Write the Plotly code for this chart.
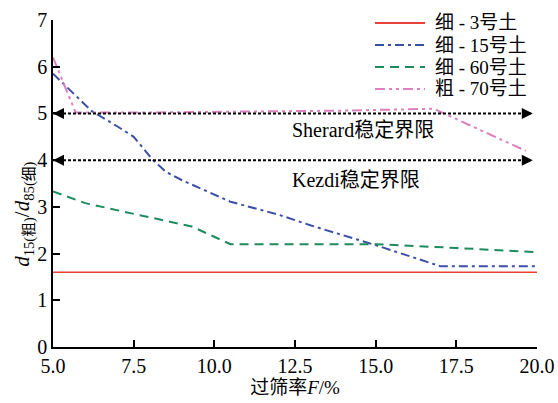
import plotly.graph_objects as go

# Filter pass rate F (%) and d15(coarse)/d85(fine) ratio for each soil pair
fine3_x = [5.0, 20.0]
fine3_y = [1.6, 1.6]

fine15_x = [5.0, 5.5, 6.2, 7.0, 7.5, 8.1, 8.5, 9.0, 10.5, 12.0, 13.0, 15.0, 17.0, 20.0]
fine15_y = [5.85, 5.52, 5.05, 4.72, 4.5, 4.0, 3.75, 3.57, 3.11, 2.83, 2.6, 2.18, 1.73, 1.73]

fine60_x = [5.0, 6.0, 7.5, 9.3, 10.5, 15.0, 17.5, 20.0]
fine60_y = [3.33, 3.08, 2.85, 2.58, 2.2, 2.2, 2.12, 2.03]

coarse70_x = [5.0, 5.7, 8.0, 10.0, 12.0, 14.0, 16.8, 19.65]
coarse70_y = [6.2, 5.02, 5.02, 5.03, 5.05, 5.06, 5.1, 4.2]

# Stability limits (Sherard and Kezdi) and the span of their arrows
sherard_limit = 5.0
kezdi_limit = 4.0
limit_x = [5.0, 19.87]

series_names = ["细 - 3号土", "细 - 15号土", "细 - 60号土", "粗 - 70号土"]

FONT = "Liberation Serif, Noto Sans CJK SC, serif"

styles = [
    dict(color="#e8413a", width=1.6, dash="solid"),
    dict(color="#3b4fa6", width=2, dash="9px,4px,3px,4px"),
    dict(color="#1e8b5f", width=2, dash="9px,6px"),
    dict(color="#dc80bf", width=2, dash="10px,4px,3px,4px,3px,4px"),
]
series = [(fine3_x, fine3_y), (fine15_x, fine15_y), (fine60_x, fine60_y), (coarse70_x, coarse70_y)]

fig = go.Figure()

for (xs, ys), name, st in zip(series, series_names, styles):
    fig.add_trace(go.Scatter(x=xs, y=ys, mode="lines", name=name, showlegend=False,
                             line=st))

# Dotted limit lines with arrowheads at both ends
for lim in (sherard_limit, kezdi_limit):
    fig.add_trace(go.Scatter(x=limit_x, y=[lim, lim], mode="lines", showlegend=False,
                             hoverinfo="skip",
                             line=dict(color="black", width=2, dash="3px,2px")))
    fig.add_trace(go.Scatter(x=limit_x, y=[lim, lim], mode="markers", showlegend=False,
                             hoverinfo="skip",
                             marker=dict(symbol=["arrow-left", "arrow-right"], size=11,
                                         color="black", line=dict(width=0))))

fig.add_annotation(x=12.36, y=sherard_limit - 0.35, text="Sherard稳定界限", showarrow=False,
                   xanchor="left", yanchor="middle", font=dict(family=FONT, size=20, color="black"))
fig.add_annotation(x=12.36, y=kezdi_limit - 0.42, text="Kezdi稳定界限", showarrow=False,
                   xanchor="left", yanchor="middle", font=dict(family=FONT, size=20, color="black"))

# Legend: line samples and labels placed in the upper-right corner
plot_l, plot_r, plot_t, plot_b = 53, 537, 20, 347
def px_to_paper(px, py):
    return (px - plot_l) / (plot_r - plot_l), (plot_b - py) / (plot_b - plot_t)

for i, (name, st) in enumerate(zip(series_names, styles)):
    row_y = 23 + 22 * i
    x0, y0 = px_to_paper(375, row_y)
    x1, _ = px_to_paper(425, row_y)
    xt, _ = px_to_paper(433, row_y)
    fig.add_shape(type="line", xref="paper", yref="paper", x0=x0, x1=x1, y0=y0, y1=y0,
                  line=dict(color=st["color"], width=2.2 if i else 1.8, dash=st["dash"]))
    fig.add_annotation(x=xt, y=y0, xref="paper", yref="paper", text=name, showarrow=False,
                       xanchor="left", yanchor="middle",
                       font=dict(family=FONT, size=19, color="black"))

# Rotated y-axis title with subscripts
fig.add_annotation(x=-0.06, y=2.85, xref="paper", yref="y", textangle=-90, showarrow=False,
                   text="<i>d</i><sub>15(粗)</sub>/<i>d</i><sub>85(细)</sub>",
                   xanchor="center", yanchor="middle",
                   font=dict(family=FONT, size=21, color="black"))

fig.update_xaxes(range=[5, 20], tickvals=[5, 7.5, 10, 12.5, 15, 17.5, 20], tickformat=".1f",
                 showline=True, linecolor="black", linewidth=1.5, ticks="inside", ticklen=7,
                 tickwidth=1.5, tickcolor="black", showgrid=False, zeroline=False,
                 tickfont=dict(family=FONT, size=20, color="black"),
                 title=dict(text="过筛率<i>F</i>/%", standoff=2,
                            font=dict(family=FONT, size=19, color="black")))
fig.update_yaxes(range=[0, 7], tickvals=list(range(0, 8)),
                 showline=True, linecolor="black", linewidth=1.5, ticks="inside", ticklen=7,
                 tickwidth=1.5, tickcolor="black", showgrid=False, zeroline=False,
                 tickfont=dict(family=FONT, size=20, color="black"))

fig.update_layout(
    width=558, height=403,
    margin=dict(l=53, r=21, t=20, b=56, autoexpand=False),
    plot_bgcolor="white", paper_bgcolor="white",
    font=dict(family=FONT, color="black"),
    showlegend=False,
)

fig.write_html("out.html")
